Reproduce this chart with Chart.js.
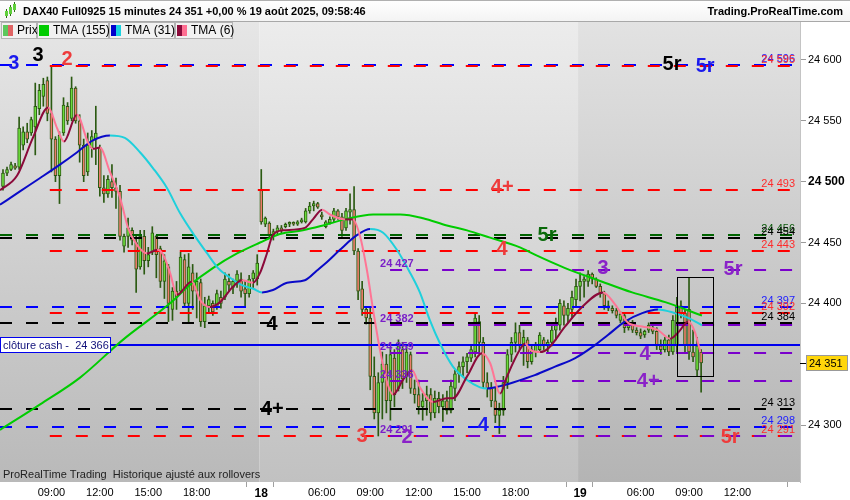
<!DOCTYPE html>
<html>
<head>
<meta charset="utf-8">
<script src="https://cdn.jsdelivr.net/npm/chart.js@4.4.0/dist/chart.umd.min.js"></script>
<style>
  html, body { margin: 0; padding: 0; background: #fff; }
  #wrap { width: 850px; height: 500px; }
</style>
</head>
<body>
<div id="wrap"><canvas id="chart" width="850" height="500"></canvas></div>
<script>
// ---- data (15 min bars, index 0 = 15 Aug 06:00) ----
const openP = [
  24496,24507,24510,24513,24512,24530,24541,24540,24545,24560,
  24570,24583,24556,24535,24505,24540,24562,24552,24577,24550,
  24530,24508,24528,24535,24528,24495,24490,24500,24495,24492,
  24447,24455,24460,24450,24430,24455,24435,24442,24455,24445,
  24418,24430,24395,24410,24410,24436,24400,24425,24410,24417,
  24385,24398,24400,24397,24405,24405,24418,24413,24418,24420,
  24412,24408,24420,24420,24493,24465,24466,24456,24459,24462,
  24463,24465,24466,24465,24467,24467,24476,24480,24482,24472,
  24463,24466,24469,24476,24471,24462,24475,24477,24443,24412,
  24395,24388,24340,24310,24335,24350,24320,24355,24330,24362,
  24340,24358,24330,24325,24315,24320,24325,24310,24322,24315,
  24320,24312,24330,24342,24348,24352,24355,24360,24385,24368,
  24335,24330,24320,24308,24312,24335,24358,24368,24376,24366,
  24370,24352,24360,24362,24370,24365,24368,24378,24382,24398,
  24390,24395,24403,24414,24418,24418,24424,24420,24414,24408,
  24398,24396,24394,24386,24390,24380,24384,24378,24376,24374,
  24378,24380,24377,24365,24362,24370,24360,24365,24398,24392,
  24395,24360,24345,24360
];
const highP = [
  24510,24512,24516,24515,24553,24545,24548,24553,24581,24580,
  24585,24586,24595,24537,24541,24569,24565,24586,24578,24555,
  24535,24540,24542,24562,24530,24505,24505,24514,24503,24497,
  24457,24470,24462,24455,24460,24460,24446,24463,24456,24447,
  24440,24432,24413,24418,24442,24440,24441,24432,24425,24420,
  24405,24406,24402,24411,24410,24425,24424,24420,24427,24425,
  24419,24423,24427,24440,24510,24471,24467,24461,24464,24464,
  24466,24467,24467,24468,24470,24478,24483,24484,24483,24475,
  24468,24471,24478,24477,24474,24478,24490,24496,24445,24418,
  24397,24397,24356,24343,24360,24358,24364,24362,24370,24368,
  24366,24360,24337,24337,24326,24332,24330,24328,24327,24325,
  24328,24337,24345,24352,24356,24359,24365,24392,24390,24372,
  24343,24335,24331,24318,24340,24362,24372,24384,24382,24378,
  24372,24366,24368,24376,24372,24370,24382,24388,24403,24402,
  24400,24410,24420,24425,24422,24427,24425,24421,24416,24410,
  24402,24398,24396,24393,24392,24386,24386,24380,24379,24378,
  24384,24382,24380,24370,24372,24374,24390,24405,24402,24395,
  24421,24378,24372,24362
];
const lowP = [
  24493,24505,24509,24510,24510,24526,24532,24538,24522,24555,
  24562,24550,24508,24500,24482,24538,24547,24550,24548,24516,
  24500,24505,24520,24514,24488,24483,24487,24487,24478,24452,
  24442,24446,24448,24409,24428,24424,24430,24440,24421,24413,
  24404,24385,24386,24395,24409,24397,24384,24395,24388,24381,
  24380,24392,24390,24395,24396,24403,24410,24408,24413,24405,
  24398,24405,24413,24415,24465,24463,24454,24452,24457,24458,
  24462,24463,24464,24464,24466,24466,24474,24476,24478,24469,
  24462,24465,24467,24469,24455,24460,24465,24440,24403,24390,
  24383,24329,24305,24291,24305,24310,24304,24315,24328,24330,
  24335,24326,24318,24309,24304,24308,24304,24306,24310,24303,
  24309,24310,24320,24335,24340,24343,24352,24356,24360,24330,
  24323,24315,24302,24293,24308,24330,24352,24360,24362,24349,
  24347,24350,24356,24360,24362,24360,24365,24370,24378,24382,
  24384,24388,24398,24402,24405,24414,24416,24413,24405,24395,
  24394,24392,24388,24384,24376,24378,24376,24374,24371,24372,
  24376,24375,24362,24358,24360,24357,24358,24360,24388,24360,
  24354,24352,24340,24327
];
const closeP = [
  24507,24510,24514,24511,24544,24541,24535,24551,24562,24575,
  24580,24556,24535,24505,24538,24563,24550,24577,24550,24530,
  24505,24530,24537,24540,24495,24490,24502,24495,24492,24455,
  24455,24462,24452,24428,24455,24435,24440,24458,24440,24418,
  24435,24400,24410,24405,24438,24400,24430,24410,24418,24385,
  24398,24403,24393,24408,24400,24420,24415,24418,24424,24410,
  24408,24420,24425,24433,24467,24470,24456,24459,24462,24460,
  24465,24466,24465,24467,24468,24476,24480,24482,24479,24471,
  24467,24469,24476,24471,24460,24476,24477,24443,24410,24395,
  24388,24340,24310,24335,24350,24320,24358,24325,24365,24338,
  24360,24330,24325,24315,24320,24325,24310,24322,24315,24320,
  24312,24332,24342,24348,24352,24356,24362,24388,24368,24335,
  24330,24320,24308,24312,24335,24358,24368,24376,24366,24372,
  24352,24362,24366,24374,24365,24368,24378,24384,24400,24390,
  24396,24405,24414,24418,24420,24424,24420,24414,24408,24398,
  24396,24394,24390,24391,24380,24384,24378,24376,24373,24377,
  24382,24377,24365,24362,24370,24360,24386,24398,24392,24366,
  24360,24356,24365,24351
];

// moving averages (bar index, price)
const tma155Idx = [-0.74, 9.2, 19.1, 29.7, 41.4, 46.3, 52.0, 58.0, 63.7, 68.6, 74.3, 79.3, 84.8, 91.7, 98.4, 104.1, 110.0, 115.0, 120.7, 128.1, 131.8, 139.3, 147.5, 155.9, 164.1, 173.2];
const tma155Val = [24296, 24317, 24339, 24370, 24400, 24415, 24429, 24441, 24450, 24457, 24460, 24464, 24469, 24473, 24473, 24470, 24464, 24460, 24454, 24446, 24440, 24429, 24419, 24409, 24401, 24390];

const tma31Idx = [-0.74, 4.2, 9.2, 14.1, 18.3, 22.3, 26.5, 30.2, 34.0, 37.2, 40.6, 43.9, 47.6, 50.6, 53.3, 56.3, 59.2, 62.0, 64.2, 66.9, 70.4, 74.8, 77.8, 80.3, 83.5, 87.7, 91.0, 94.2, 97.6, 100.9, 103.3, 105.8, 108.3, 111.5, 115.0, 118.2, 120.0, 123.2, 126.4, 131.8, 136.8, 141.8, 146.0, 149.9, 154.1, 158.4, 162.3, 166.5, 169.8, 173.2];
const tma31Val = [24481, 24492, 24503, 24514, 24524, 24534, 24538, 24536, 24524, 24511, 24495, 24474, 24455, 24441, 24429, 24421, 24415, 24412, 24409, 24411, 24417, 24419, 24427, 24434, 24444, 24456, 24461, 24458, 24444, 24425, 24409, 24386, 24367, 24348, 24337, 24331, 24330, 24332, 24335, 24341, 24348, 24355, 24364, 24374, 24385, 24392, 24395, 24392, 24388, 24382];

const tma6Idx = [-0.74, 3.5, 7.4, 11.2, 13.4, 15.1, 18.3, 21.1, 22.3, 24.0, 26.5, 29.0, 31.0, 33.2, 35.7, 38.2, 39.7, 41.4, 43.1, 46.8, 48.8, 51.3, 53.8, 56.8, 59.2, 62.0, 63.7, 65.4, 66.7, 67.9, 69.4, 74.8, 76.8, 79.1, 81.0, 84.8, 86.7, 88.5, 90.2, 91.7, 93.4, 95.2, 96.7, 99.1, 101.4, 103.3, 106.6, 110.0, 111.5, 115.0, 118.7, 120.7, 123.2, 124.9, 128.1, 129.4, 130.6, 133.1, 135.1, 139.3, 143.5, 148.7, 151.7, 154.9, 158.4, 162.3, 165.3, 167.3, 169.8, 171.5, 172.8];
const tma6Val = [24493, 24505, 24536, 24561, 24544, 24533, 24555, 24532, 24527, 24528, 24508, 24487, 24462, 24448, 24441, 24444, 24440, 24425, 24407, 24418, 24403, 24397, 24401, 24413, 24419, 24417, 24425, 24441, 24455, 24459, 24460, 24462, 24469, 24477, 24473, 24469, 24469, 24455, 24427, 24395, 24362, 24335, 24325, 24337, 24345, 24331, 24319, 24322, 24322, 24340, 24359, 24351, 24326, 24340, 24362, 24367, 24362, 24360, 24363, 24381, 24397, 24409, 24399, 24384, 24381, 24378, 24371, 24376, 24385, 24376, 24360];

// horizontal levels
const levelPrice = [24596, 24595, 24493, 24456, 24454, 24443, 24427, 24397, 24392, 24384, 24382, 24359, 24336, 24313, 24298, 24291, 24291];
const levelFrom  = [-0.74, 11.6, 11.6, -0.74, -0.74, 11.6, 92.7, -0.74, 11.6, -0.74, 92.7, 92.7, 92.7, -0.74, -0.74, 11.6, 92.7];
const levelKind  = ['blue', 'red', 'red', 'green', 'black', 'red', 'purple', 'blue', 'red', 'black', 'purple', 'purple', 'purple', 'black', 'blue', 'red', 'purple'];

const cashClose = 24366;
const lastPrice = 24351;

// signal marks (bar index, price)
const markText  = ['3', '3', '2', '4+', '4', '5r', '3', '5r', '5r', '5r', '4', '4+', '4', '4+', '3', '2', '4', '5r'];
const markIdx   = [2.7, 8.7, 15.9, 123.7, 123.7, 134.8, 148.7, 180.9, 165.8, 174.0, 66.7, 66.7, 159.1, 159.9, 89.0, 100.1, 119.0, 180.2];
const markPrice = [24597, 24604, 24600, 24495, 24444, 24456, 24429, 24428, 24596, 24595, 24383, 24313, 24358, 24336, 24291, 24290, 24300, 24290];
const markKind  = ['blue', 'black', 'red', 'red', 'red', 'green', 'purple', 'purple', 'black', 'blue', 'black', 'black', 'purple', 'purple', 'red', 'purple', 'blue', 'red'];

// highlighted zone
const boxIdx = [166.9, 175.9];
const boxPrice = [24340, 24422];

// axes
const xTickIdx = [12, 24, 36, 48, 64, 79, 91, 103, 115, 127, 143, 158, 170, 182];
const xTickText = ['09:00', '12:00', '15:00', '18:00', '18', '06:00', '09:00', '12:00', '15:00', '18:00', '19', '06:00', '09:00', '12:00'];
const xMarkIdx = [60.2, 66.9, 139.5, 146.0, 194.3];
const yTicks = [24300, 24400, 24450, 24500, 24550, 24600];
const dayBreaks = [-0.74, 63.5, 142.5, 197.5];

const xMin = -0.74, xMax = 197.5;
const yMin = 24253.2, yMax = 24631.2;

// ---- styles ----
const FONT = '"Liberation Sans", Arial, sans-serif';
const lineColor = { red: '#ff0000', blue: '#0000ff', black: '#000000', green: '#006400', purple: '#7a00cc' };
const textColor = { red: '#ff2b2b', blue: '#1c1cff', black: '#000000', green: '#0b5a0b', purple: '#7a1fc8' };
const markColor = { red: '#ee3b3b', blue: '#1a1aee', black: '#000000', green: '#0a6a0a', purple: '#8a22c8' };
const dayShade = [['#e6e6e6', '#b9b9b9'], ['#ececec', '#c1c1c1'], ['#e2e2e2', '#b4b4b4']];
const wickColor = '#2b5a12';

const fmt = v => String(Math.round(v)).replace(/\B(?=(\d{3})+(?!\d))/g, ' ');
const pts = (idx, val) => idx.map((v, k) => ({ x: v, y: val[k] }));

const bgPlugin = {
  id: 'bg',
  beforeDraw(chart) {
    const { ctx, chartArea: a, scales: { x } } = chart;
    ctx.save();
    ctx.fillStyle = '#fff';
    ctx.fillRect(0, 0, chart.width, chart.height);
    const hg = ctx.createLinearGradient(0, 0, 0, a.top);
    hg.addColorStop(0, '#ffffff');
    hg.addColorStop(1, '#f3f3f3');
    ctx.fillStyle = hg;
    ctx.fillRect(0, 0, chart.width, a.top);
    ctx.fillStyle = '#b0b0b0';
    ctx.fillRect(0, 0, chart.width, 1);
    for (let d = 0; d < 3; d++) {
      const x0 = Math.max(a.left, x.getPixelForValue(dayBreaks[d]));
      const x1 = Math.min(a.right, x.getPixelForValue(dayBreaks[d + 1]));
      const g = ctx.createLinearGradient(0, a.top, 0, a.bottom);
      g.addColorStop(0, dayShade[d][0]);
      g.addColorStop(1, dayShade[d][1]);
      ctx.fillStyle = g;
      ctx.fillRect(x0, a.top, x1 - x0, a.bottom - a.top);
    }
    ctx.fillStyle = '#a8a8a8';
    ctx.fillRect(0, a.top - 1, chart.width, 1);
    // header
    ctx.fillStyle = '#000';
    ctx.font = 'bold 11px ' + FONT;
    ctx.textBaseline = 'middle';
    ctx.textAlign = 'left';
    ctx.fillText('DAX40 Full0925 15 minutes 24 351 +0,00 % 19 août 2025, 09:58:46', 23, 12);
    ctx.textAlign = 'right';
    ctx.fillText('Trading.ProRealTime.com', 843, 12);
    // little candle icon
    const ic = [[6, 11, 16], [10, 7, 14], [14, 4, 10]];
    ic.forEach(([cx, t, b]) => {
      ctx.fillStyle = '#2b6a12';
      ctx.fillRect(cx, t - 2, 1, b - t + 4);
      ctx.fillStyle = '#5fd03a';
      ctx.fillRect(cx - 1, t, 3, b - t);
    });
    ctx.restore();
  },
  afterDatasetDraw(chart, args) {
    if (args.index !== 1) return;
    const { ctx, chartArea: a, scales: { x, y } } = chart;
    ctx.save();
    ctx.beginPath();
    ctx.rect(a.left, a.top, a.right - a.left, a.bottom - a.top);
    ctx.clip();
    // cash close line
    const yc = Math.round(y.getPixelForValue(cashClose));
    ctx.fillStyle = '#0000ee';
    ctx.fillRect(a.left, yc - 1, a.right - a.left, 2);
    levelPrice.forEach((p, k) => {
      const py = Math.round(y.getPixelForValue(p));
      const x0 = Math.max(a.left, x.getPixelForValue(levelFrom[k]));
      ctx.strokeStyle = lineColor[levelKind[k]];
      ctx.lineWidth = 2;
      ctx.setLineDash([12, 14]);
      ctx.lineDashOffset = levelKind[k] === 'purple' ? 13 : 0;
      ctx.beginPath();
      ctx.moveTo(x0, py);
      ctx.lineTo(a.right, py);
      ctx.stroke();
    });
    ctx.restore();
  },
  afterDatasetsDraw(chart) {
    const { ctx, chartArea: a, scales: { x, y } } = chart;
    ctx.save();
    // box
    const bx0 = Math.round(x.getPixelForValue(boxIdx[0])) + 0.5;
    const bx1 = Math.round(x.getPixelForValue(boxIdx[1])) + 0.5;
    const by0 = Math.round(y.getPixelForValue(boxPrice[1])) + 0.5;
    const by1 = Math.round(y.getPixelForValue(boxPrice[0])) + 0.5;
    ctx.strokeStyle = '#000';
    ctx.lineWidth = 1;
    ctx.strokeRect(bx0, by0, bx1 - bx0, by1 - by0);
    // level labels
    levelPrice.forEach((p, k) => {
      const py = Math.round(y.getPixelForValue(p));
      const kind = levelKind[k];
      ctx.fillStyle = textColor[kind];
      ctx.textBaseline = 'bottom';
      if (kind === 'purple') {
        ctx.font = 'bold 11px ' + FONT;
        ctx.textAlign = 'left';
        ctx.fillText(fmt(p), x.getPixelForValue(levelFrom[k]) + 3, py - 1);
      } else {
        ctx.font = '11px ' + FONT;
        ctx.textAlign = 'right';
        ctx.fillText(fmt(p), a.right - 5, py - 1);
      }
    });
    // signal marks
    ctx.font = 'bold 20px ' + FONT;
    ctx.textAlign = 'center';
    ctx.textBaseline = 'middle';
    markText.forEach((t, k) => {
      ctx.fillStyle = markColor[markKind[k]];
      ctx.fillText(t, x.getPixelForValue(markIdx[k]), y.getPixelForValue(markPrice[k]));
    });
    // cash close box
    const yc = Math.round(y.getPixelForValue(cashClose));
    ctx.fillStyle = '#fff';
    ctx.fillRect(a.left, yc - 8, 111, 16);
    ctx.strokeStyle = '#0000ee';
    ctx.strokeRect(a.left + 0.5, yc - 7.5, 110, 15);
    ctx.fillStyle = '#10107a';
    ctx.font = '11px ' + FONT;
    ctx.textAlign = 'left';
    ctx.fillText('clôture cash -  ' + fmt(cashClose), a.left + 3, yc + 0.5);
    // footer note
    ctx.fillStyle = '#222';
    ctx.fillText('ProRealTime Trading  Historique ajusté aux rollovers', a.left + 3, a.bottom - 7);
    ctx.restore();
  },
  afterDraw(chart) {
    const { ctx, chartArea: a, scales: { x, y } } = chart;
    ctx.save();
    // x tick marks
    ctx.fillStyle = '#a0a0a0';
    xMarkIdx.forEach(v => ctx.fillRect(Math.round(x.getPixelForValue(v)), a.bottom, 1, 5));
    // last price box
    const yp = Math.round(y.getPixelForValue(lastPrice));
    ctx.fillStyle = '#000';
    ctx.fillRect(a.right, yp, 6, 1);
    ctx.fillStyle = '#ffd60a';
    ctx.fillRect(a.right + 6, yp - 8, 42, 16);
    ctx.strokeStyle = '#999';
    ctx.strokeRect(a.right + 6.5, yp - 7.5, 41, 15);
    ctx.fillStyle = '#000';
    ctx.font = '11px ' + FONT;
    ctx.textBaseline = 'middle';
    ctx.textAlign = 'left';
    ctx.fillText(fmt(lastPrice), a.right + 9, yp + 1);
    // legend
    const items = [
      ['Prix', '#5cc85c', '#e06464', 1, 37],
      ['TMA (155)', '#00cc00', '#00cc00', 37, 109],
      ['TMA (31)', '#0000cc', '#19d2e0', 109, 175],
      ['TMA (6)', '#8b0a3a', '#ff6f92', 175, 233]
    ];
    ctx.font = '12px ' + FONT;
    items.forEach(([t, c1, c2, l, r]) => {
      ctx.fillStyle = '#f1f1f1';
      ctx.fillRect(l, a.top, r - l, 17);
      ctx.strokeStyle = '#b4b4b4';
      ctx.strokeRect(l + 0.5, a.top + 0.5, r - l - 1, 16);
      ctx.fillStyle = c1;
      ctx.fillRect(l + 2, a.top + 3, 5, 11);
      ctx.fillStyle = c2;
      ctx.fillRect(l + 7, a.top + 3, 5, 11);
      ctx.fillStyle = '#000';
      ctx.fillText(t, l + 16, a.top + 9);
    });
    ctx.restore();
  }
};

const up = openP.map((o, i) => closeP[i] >= o);

new Chart(document.getElementById('chart'), {
  type: 'bar',
  data: {
    datasets: [
      {
        data: openP.map((o, i) => ({ x: i, y: [lowP[i], highP[i]] })),
        backgroundColor: wickColor,
        borderWidth: 0,
        barThickness: 1,
        grouped: false,
        order: 3
      },
      {
        data: openP.map((o, i) => ({ x: i, y: [o, closeP[i]] })),
        backgroundColor: up.map(u => u ? '#6cdc3c' : '#ec7d6b'),
        borderColor: wickColor,
        borderWidth: 1,
        borderSkipped: false,
        barThickness: 3,
        minBarLength: 2,
        grouped: false,
        order: 2
      },
      {
        type: 'line',
        data: pts(tma155Idx, tma155Val),
        borderColor: '#00cc00',
        borderWidth: 2,
        pointRadius: 0,
        cubicInterpolationMode: 'monotone',
        order: 1
      },
      {
        type: 'line',
        data: pts(tma31Idx, tma31Val),
        borderColor: '#0000c8',
        segment: { borderColor: c => c.p1.parsed.y >= c.p0.parsed.y ? '#0a0ac8' : '#1fd0dc' },
        borderWidth: 2,
        pointRadius: 0,
        cubicInterpolationMode: 'monotone',
        order: 0
      },
      {
        type: 'line',
        data: pts(tma6Idx, tma6Val),
        borderColor: '#8b0a3a',
        segment: { borderColor: c => c.p1.parsed.y >= c.p0.parsed.y ? '#8b0a3a' : '#ff7595' },
        borderWidth: 2,
        pointRadius: 0,
        cubicInterpolationMode: 'monotone',
        order: -1
      }
    ]
  },
  options: {
    responsive: false,
    animation: false,
    devicePixelRatio: 1,
    layout: { padding: { top: 22, left: 0, right: 0, bottom: 0 } },
    plugins: { legend: { display: false }, tooltip: { enabled: false } },
    scales: {
      x: {
        type: 'linear',
        min: xMin,
        max: xMax,
        offset: false,
        afterFit: s => { s.height = 18; },
        afterBuildTicks: s => { s.ticks = xTickIdx.map(v => ({ value: v })); },
        grid: { drawOnChartArea: false, drawTicks: true, tickLength: 4, tickColor: 'rgba(0,0,0,0)' },
        border: { display: false },
        ticks: {
          autoSkip: false,
          maxRotation: 0,
          padding: 0,
          color: '#000',
          font: c => (c.tick && (c.tick.value === 64 || c.tick.value === 143)) ? { family: FONT, size: 12, weight: 'bold' } : { family: FONT, size: 11 },
          callback: v => xTickText[xTickIdx.indexOf(v)] || ''
        }
      },
      y: {
        position: 'right',
        min: yMin,
        max: yMax,
        afterFit: s => { s.width = 50; },
        afterBuildTicks: s => { s.ticks = yTicks.map(v => ({ value: v })); },
        grid: { drawOnChartArea: false, tickLength: 6, tickColor: '#9a9a9a' },
        border: { color: '#c4c4c4' },
        ticks: {
          padding: 2,
          color: '#000',
          font: c => (c.tick && c.tick.value === 24500) ? { family: FONT, size: 12, weight: 'bold' } : { family: FONT, size: 11 },
          callback: v => fmt(v)
        }
      }
    }
  },
  plugins: [bgPlugin]
});
</script>
</body>
</html>
